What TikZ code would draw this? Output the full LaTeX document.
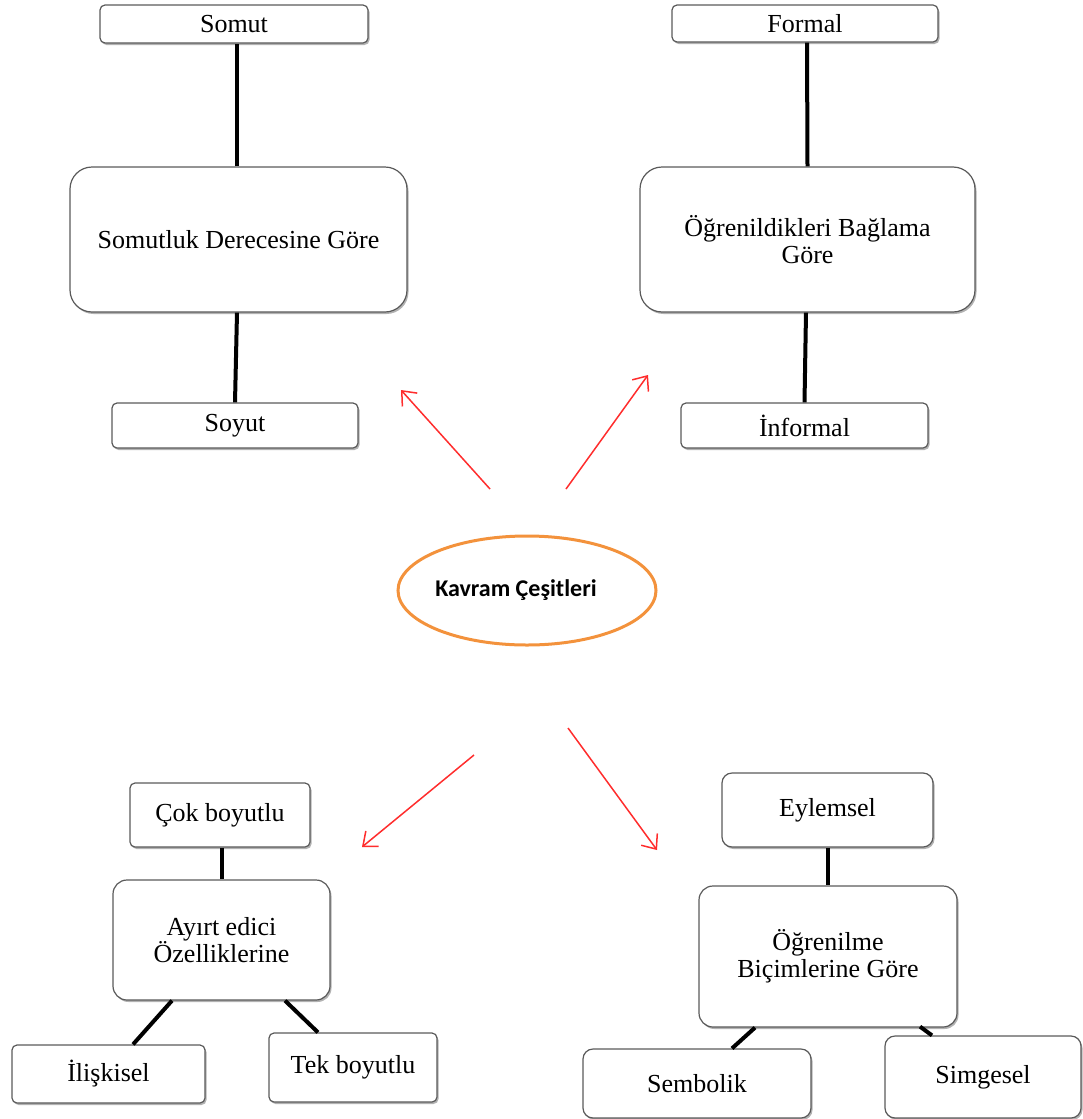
\documentclass[tikz,border=0pt]{standalone}
\usepackage{fontspec}
\setmainfont{Liberation Serif}
\newfontfamily\kfont{Carlito}
\usetikzlibrary{arrows.meta,shapes.geometric,shadows,calc}
\definecolor{boxline}{RGB}{90,90,90}
\definecolor{korange}{RGB}{243,146,60}
\definecolor{kred}{RGB}{255,45,45}
\begin{document}
\begin{tikzpicture}[x=1pt,y=-1pt,
  box/.style={draw=boxline, line width=1.2pt, fill=white, rectangle, rounded corners=5pt,
    inner sep=0pt, align=center, font=\fontsize{26}{27}\selectfont,
    drop shadow={shadow xshift=1.5pt, shadow yshift=-2pt, opacity=0.3, fill=black}},
  bigbox/.style={box, rounded corners=22pt},
  midbox/.style={box, rounded corners=14pt},
  link/.style={line width=4pt, black},
  redarrow/.style={draw=kred, line width=1.5pt, -{Straight Barb[length=12pt,width=20pt]}}
]
\useasboundingbox (0,0) rectangle (1082,1119);

% top left
\node[box, minimum width=268pt, minimum height=38pt] (somut) at (234,24) {Somut};
\node[bigbox, minimum width=337pt, minimum height=145pt] (somutluk) at (238.5,239.5) {Somutluk Derecesine Göre};
\node[box, minimum width=246pt, minimum height=45pt] (soyut) at (235,425.5) {Soyut};

% top right
\node[box, minimum width=266pt, minimum height=37pt] (formal) at (805,23.5) {Formal};
\node[bigbox, minimum width=335pt, minimum height=145pt] (baglam) at (807.5,239.5) {Öğrenildikleri Bağlama\\Göre};
\node[box, minimum width=247pt, minimum height=45pt] (informal) at (804.5,425.5) {İnformal};

% center
\node[ellipse, draw=korange, line width=3pt, minimum width=258pt, minimum height=109pt, inner sep=0pt,
  font=\kfont\bfseries\fontsize{24}{26}\selectfont] (kavram) at (527,590.5) {\hspace*{-22pt}Kavram Çeşitleri};

% bottom left
\node[box, minimum width=180pt, minimum height=64pt] (cok) at (220,815) {Çok boyutlu};
\node[midbox, minimum width=217pt, minimum height=120pt] (ayirt) at (221.5,940) {Ayırt edici\\Özelliklerine};
\node[box, minimum width=193pt, minimum height=58pt] (iliskisel) at (108.5,1074) {İlişkisel};
\node[box, minimum width=168pt, minimum height=69pt] (tek) at (353,1067.5) {Tek boyutlu};

% bottom right
\node[box, rounded corners=10pt, minimum width=211pt, minimum height=74pt] (eylemsel) at (827.5,810) {Eylemsel};
\node[midbox, minimum width=258pt, minimum height=141pt] (ogrenilme) at (828,956.5) {Öğrenilme\\Biçimlerine Göre};
\node[box, rounded corners=10pt, minimum width=228pt, minimum height=69pt] (sembolik) at (697,1083.5) {Sembolik};
\node[box, rounded corners=10pt, minimum width=196pt, minimum height=82pt] (simgesel) at (983,1077) {Simgesel};

% black links
\draw[link] ($(somutluk.north)+(-1.5,0)$) -- ($(somut.south)+(3,0)$);
\draw[link] ($(somutluk.south)+(-1.5,0)$) -- (soyut.north);
\draw[link] (baglam.north) -- ($(formal.south)+(2,0)$);
\draw[link] ($(baglam.south)+(-1.5,0)$) -- (informal.north);
\draw[link] ($(cok.south)+(2,0)$) -- ($(ayirt.north)+(0.5,0)$);
\draw[link] ($(ayirt.south)+(-49.5,0)$) -- ($(iliskisel.north)+(24.5,0)$);
\draw[link] ($(ayirt.south)+(63.5,0)$) -- ($(tek.north)+(-35,0)$);
\draw[link] (eylemsel.south) -- ($(ogrenilme.north)+(-0.5,0)$);
\draw[link] ($(ogrenilme.south)+(-73,0)$) -- ($(sembolik.north)+(35,0)$);
\draw[link] ($(ogrenilme.south)+(92,-1)$) -- ($(simgesel.north)+(-51,0)$);

% red arrows
\coordinate (a1s) at (490,489);
\coordinate (a1e) at (401,390);
\coordinate (a2s) at (566,489);
\coordinate (a2e) at (648,375);
\coordinate (a3s) at (474,755);
\coordinate (a3e) at (362,847);
\coordinate (a4s) at (568,728);
\coordinate (a4e) at (657,850);
\draw[redarrow] (a1s) -- (a1e);
\draw[redarrow] (a2s) -- (a2e);
\draw[redarrow] (a3s) -- (a3e);
\draw[redarrow] (a4s) -- (a4e);
\end{tikzpicture}
\end{document}
